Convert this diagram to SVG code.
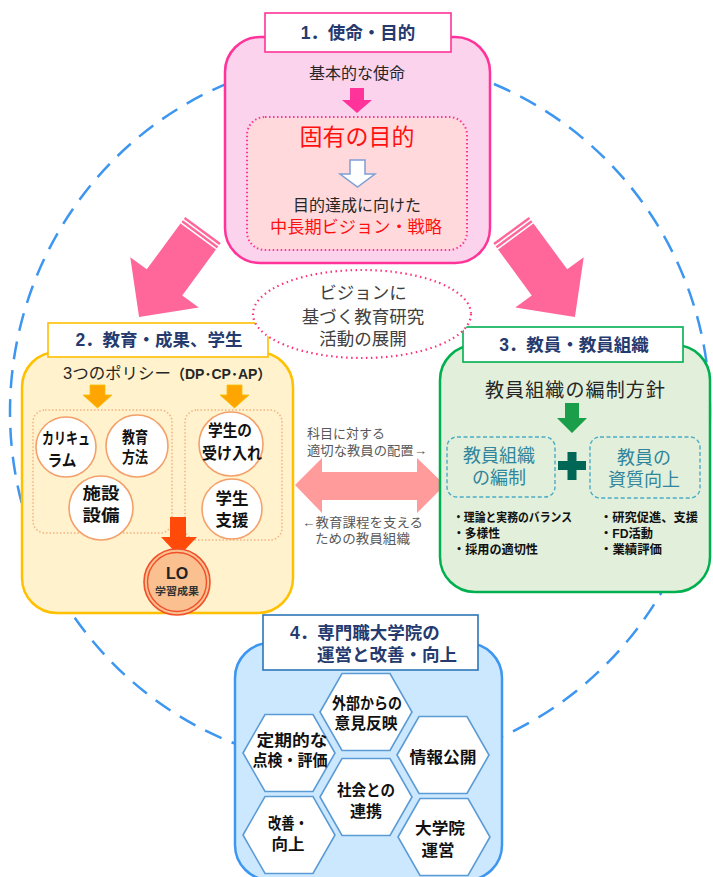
<svg xmlns="http://www.w3.org/2000/svg" width="713" height="877" viewBox="0 0 713 877">
<style>
text{font-family:"Liberation Sans","Noto Sans CJK JP",sans-serif;}
.title{font-weight:bold;fill:#253A6E;font-size:17.5px;}
.tbox{fill:#fff;stroke-width:1.6;}
.circ{fill:#fff;stroke:#F4A06A;stroke-width:1.6;}
.ctx{font-weight:bold;font-size:16px;fill:#111;text-anchor:middle;}
.hex{fill:#fff;stroke:#5B9BD5;stroke-width:1.6;}
.htx{font-weight:bold;font-size:15.5px;fill:#111;text-anchor:middle;}
.mid{font-size:13px;fill:#595959;}
.bul{font-weight:bold;font-size:12.5px;fill:#111;}
.teal{font-size:18px;fill:#31859C;text-anchor:middle;}
</style>
<defs>
<g id="bigArrow">
<polygon points="0,-22 65,-22 65,-42.5 108,0 65,42.5 65,22 0,22" fill="#FF6699"/>
<line x1="3.3" y1="-24" x2="3.3" y2="24" stroke="#fff" stroke-width="1.6"/>
<line x1="7.3" y1="-24" x2="7.3" y2="24" stroke="#fff" stroke-width="1.6"/>
</g>
<polygon id="hexShape" points="-46,0 -24,-38.5 24,-38.5 46,0 24,38.5 -24,38.5"/>
</defs>

<g id="connectors">
<ellipse cx="360" cy="412" rx="350" ry="355" fill="none" stroke="#3D96F0" stroke-width="2.5" stroke-dasharray="18 11"/>
<use href="#bigArrow" transform="translate(203,230) rotate(126.3)"/>
<use href="#bigArrow" transform="translate(714,0) scale(-1,1) translate(203,230) rotate(126.3)"/>
<polygon points="295,485 322,458 322,472 417,472 417,458 445,485 417,513 417,500 322,500 322,513" fill="#FF9B9B"/>
</g>

<g id="node1">
<rect x="225" y="37" width="265" height="226" rx="35" fill="#FCD3EC" stroke="#FF3399" stroke-width="2.5"/>
<rect class="tbox" x="265" y="13" width="186" height="39" stroke="#FF3399"/>
<text class="title" x="358" y="39" text-anchor="middle" font-size="17">1．使命・目的</text>
<text x="357" y="79" font-size="16" fill="#262626" text-anchor="middle">基本的な使命</text>
<polygon points="350,88 364,88 364,100 372,100 357,113 342,100 350,100" fill="#FF3399"/>
<rect x="247" y="117" width="220" height="133" rx="18" fill="#FFD9DC" stroke="#FF3399" stroke-width="2" stroke-dasharray="1.5 2.5"/>
<text x="357" y="145" font-size="23" fill="#FF1010" text-anchor="middle">固有の目的</text>
<polygon points="350,160 365,160 365,174 375,174 357.5,187 340,174 350,174" fill="#fff" stroke="#7F9FD5" stroke-width="1.5"/>
<text x="357" y="211" font-size="16" fill="#262626" text-anchor="middle">目的達成に向けた</text>
<text x="356" y="233" font-size="17" fill="#FF1010" text-anchor="middle" textLength="172" lengthAdjust="spacingAndGlyphs">中長期ビジョン・戦略</text>
</g>

<g id="node2">
<rect x="22" y="352" width="271" height="261" rx="35" fill="#FFF2CC" stroke="#FFC000" stroke-width="2.5"/>
<rect class="tbox" x="48" y="323" width="220" height="34" stroke="#FFC000"/>
<text class="title" x="159" y="346" text-anchor="middle">2．教育・成果、学生</text>
<text x="63" y="379" font-size="16" fill="#262626"><tspan textLength="108" lengthAdjust="spacingAndGlyphs">3つのポリシー</tspan><tspan font-weight="bold" font-size="14">（DP･CP･AP）</tspan></text>
<polygon points="90,385 105,385 105,395 112,395 97.5,408 83,395 90,395" fill="#FFA500" stroke="#F8C000" stroke-width="0.8"/>
<polygon points="227,385 242,385 242,395 249,395 234.5,408 220,395 227,395" fill="#FFA500" stroke="#F8C000" stroke-width="0.8"/>
<rect x="33" y="410" width="139" height="123" rx="12" fill="none" stroke="#F4B183" stroke-width="1.5" stroke-dasharray="1.5 2"/>
<rect x="185" y="410" width="97" height="130" rx="12" fill="none" stroke="#F4B183" stroke-width="1.5" stroke-dasharray="1.5 2"/>
<circle class="circ" cx="66" cy="447" r="30"/>
<circle class="circ" cx="137" cy="446" r="31"/>
<circle class="circ" cx="101" cy="508" r="32"/>
<circle class="circ" cx="231" cy="444" r="32"/>
<circle class="circ" cx="232" cy="509" r="30"/>
<text class="ctx" x="66" y="444" textLength="48" lengthAdjust="spacingAndGlyphs">カリキュ</text>
<text class="ctx" x="62" y="466" textLength="29" lengthAdjust="spacingAndGlyphs">ラム</text>
<text class="ctx" x="135" y="443" textLength="26" lengthAdjust="spacingAndGlyphs">教育</text>
<text class="ctx" x="135" y="463" textLength="26" lengthAdjust="spacingAndGlyphs">方法</text>
<text class="ctx" x="101" y="499" textLength="37" lengthAdjust="spacingAndGlyphs">施設</text>
<text class="ctx" x="101" y="521" textLength="37" lengthAdjust="spacingAndGlyphs">設備</text>
<text class="ctx" x="230" y="436" textLength="44" lengthAdjust="spacingAndGlyphs">学生の</text>
<text class="ctx" x="232" y="459" textLength="60" lengthAdjust="spacingAndGlyphs">受け入れ</text>
<text class="ctx" x="232" y="504" textLength="33" lengthAdjust="spacingAndGlyphs">学生</text>
<text class="ctx" x="232" y="526" textLength="33" lengthAdjust="spacingAndGlyphs">支援</text>
<polygon points="170,517 186,517 186,537 197,537 179,556 161,537 170,537" fill="#FF4A0A"/>
<circle cx="177" cy="582" r="33" fill="#FAC090" stroke="#F0502A" stroke-width="1.6"/>
<circle cx="177" cy="582" r="29.5" fill="none" stroke="#F0502A" stroke-width="1.4"/>
<text x="177" y="579" font-size="16" font-weight="bold" fill="#222" text-anchor="middle">LO</text>
<text x="177" y="595" font-size="10.5" font-weight="bold" fill="#333" text-anchor="middle" textLength="44" lengthAdjust="spacingAndGlyphs">学習成果</text>
</g>

<g id="node3">
<rect x="440" y="345" width="270" height="247" rx="35" fill="#E2EFDA" stroke="#00B050" stroke-width="2.5"/>
<rect class="tbox" x="463" y="327" width="220" height="35" stroke="#00B050"/>
<text class="title" x="574" y="351" text-anchor="middle" font-size="18">3．教員・教員組織</text>
<text x="575" y="397" font-size="19" fill="#262626" text-anchor="middle" textLength="180" lengthAdjust="spacing">教員組織の編制方針</text>
<polygon points="565,403 579,403 579,418 587,418 572,433 557,418 565,418" fill="#1A9E4A"/>
<rect x="447" y="437" width="108" height="60" rx="10" fill="none" stroke="#4BACC6" stroke-width="1.4" stroke-dasharray="4 2.5"/>
<rect x="590" y="437" width="110" height="61" rx="10" fill="none" stroke="#4BACC6" stroke-width="1.4" stroke-dasharray="4 2.5"/>
<text class="teal" x="499" y="462">教員組織</text>
<text class="teal" x="499" y="484">の編制</text>
<text class="teal" x="644" y="464">教員の</text>
<text class="teal" x="644" y="486">資質向上</text>
<path d="M567.5,452 h9 v9 h9.5 v9 h-9.5 v10 h-9 v-10 h-9.5 v-9 h9.5 z" fill="#006655"/>
<text class="bul" x="453" y="522" textLength="119" lengthAdjust="spacingAndGlyphs">・理論と実務のバランス</text>
<text class="bul" x="453" y="538" textLength="47" lengthAdjust="spacingAndGlyphs">・多様性</text>
<text class="bul" x="453" y="554" textLength="85" lengthAdjust="spacingAndGlyphs">・採用の適切性</text>
<text class="bul" x="600" y="522" textLength="98" lengthAdjust="spacingAndGlyphs">・研究促進、支援</text>
<text class="bul" x="600" y="538" textLength="53" lengthAdjust="spacingAndGlyphs">・FD活動</text>
<text class="bul" x="600" y="554" textLength="62" lengthAdjust="spacingAndGlyphs">・業績評価</text>
</g>

<g id="vision">
<ellipse cx="362" cy="314" rx="109" ry="44" fill="#fff" stroke="#FF3377" stroke-width="2.2" stroke-dasharray="1.5 3.5"/>
<text x="363" y="299" font-size="17.5" fill="#404040" text-anchor="middle">ビジョンに</text>
<text x="363" y="323" font-size="17.5" fill="#404040" text-anchor="middle">基づく教育研究</text>
<text x="363" y="345" font-size="17.5" fill="#404040" text-anchor="middle">活動の展開</text>
</g>

<g id="labels">
<text class="mid" x="307" y="438">科目に対する</text>
<text class="mid" x="307" y="455" textLength="120" lengthAdjust="spacingAndGlyphs">適切な教員の配置→</text>
<text class="mid" x="302" y="527" textLength="121" lengthAdjust="spacingAndGlyphs">←教育課程を支える</text>
<text class="mid" x="315" y="543" textLength="95" lengthAdjust="spacingAndGlyphs">ための教員組織</text>
</g>

<g id="node4">
<rect x="235" y="643" width="267" height="237" rx="35" fill="#CCE8FF" stroke="#3D96F0" stroke-width="2.5"/>
<rect class="tbox" x="263" y="615" width="215" height="55" stroke="#2E75B6"/>
<text class="title" x="290" y="639">4．専門職大学院の</text>
<text class="title" x="317" y="661">運営と改善・向上</text>
<use href="#hexShape" class="hex" transform="translate(366,712)"/>
<use href="#hexShape" class="hex" transform="translate(289,753)"/>
<use href="#hexShape" class="hex" transform="translate(443,755)"/>
<use href="#hexShape" class="hex" transform="translate(366,797)"/>
<use href="#hexShape" class="hex" transform="translate(289,835)"/>
<use href="#hexShape" class="hex" transform="translate(444,837)"/>
<text class="htx" x="367" y="709" textLength="70" lengthAdjust="spacingAndGlyphs">外部からの</text>
<text class="htx" x="366" y="729" textLength="63" lengthAdjust="spacingAndGlyphs">意見反映</text>
<text class="htx" x="292" y="746" textLength="71" lengthAdjust="spacingAndGlyphs">定期的な</text>
<text class="htx" x="290" y="766" textLength="75" lengthAdjust="spacingAndGlyphs">点検・評価</text>
<text class="htx" x="443" y="763" textLength="67" lengthAdjust="spacingAndGlyphs">情報公開</text>
<text class="htx" x="366" y="796" textLength="58" lengthAdjust="spacingAndGlyphs">社会との</text>
<text class="htx" x="366" y="817" textLength="32" lengthAdjust="spacingAndGlyphs">連携</text>
<text class="htx" x="288" y="829" textLength="40" lengthAdjust="spacingAndGlyphs">改善・</text>
<text class="htx" x="288" y="850" textLength="33" lengthAdjust="spacingAndGlyphs">向上</text>
<text class="htx" x="440" y="834" textLength="50" lengthAdjust="spacingAndGlyphs">大学院</text>
<text class="htx" x="438" y="856" textLength="33" lengthAdjust="spacingAndGlyphs">運営</text>
</g>
</svg>
